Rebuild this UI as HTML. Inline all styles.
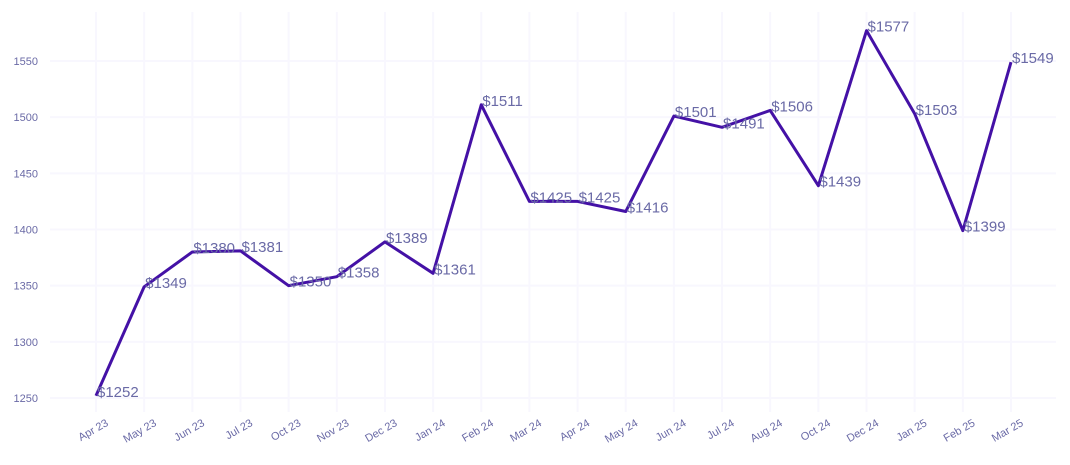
<!DOCTYPE html>
<html><head><meta charset="utf-8"><style>
body{margin:0;background:#fff;}
svg{display:block;font-family:"Liberation Sans",sans-serif;}
</style></head><body>
<svg id="chart" width="1070" height="465"></svg>
<script>
const categories=["Apr 23","May 23","Jun 23","Jul 23","Oct 23","Nov 23","Dec 23","Jan 24","Feb 24","Mar 24","Apr 24","May 24","Jun 24","Jul 24","Aug 24","Oct 24","Dec 24","Jan 25","Feb 25","Mar 25"];
const values=[1252,1349,1380,1381,1350,1358,1389,1361,1511,1425,1425,1416,1501,1491,1506,1439,1577,1503,1399,1549];
const yTicks=[1250,1300,1350,1400,1450,1500,1550];
const NS="http://www.w3.org/2000/svg";
const svg=document.getElementById('chart');
const x0=96,x1=1011,yv0=1250,yp0=398,yv1=1550,yp1=61;
const xs=i=>x0+(x1-x0)*i/(categories.length-1);
const ys=v=>yp0+(v-yv0)*(yp1-yp0)/(yv1-yv0);
function mk(t,a){const e=document.createElementNS(NS,t);for(const k in a)e.setAttribute(k,a[k]);svg.appendChild(e);return e;}
yTicks.forEach(t=>{
  const g=mk('line',{x1:50,x2:1056,y1:ys(t),y2:ys(t),stroke:'#f8f7fe','stroke-width':2});
  
  
  const l=mk('text',{x:38,y:ys(t)+4,'text-anchor':'end','font-size':11,fill:'#6a6aa6'});
  l.textContent=t;
  
  
});
categories.forEach((c,i)=>{
  const g=mk('line',{x1:xs(i),x2:xs(i),y1:12,y2:412,stroke:'#f8f7fe','stroke-width':2});
  
  
  const l=mk('text',{x:xs(i)+13,y:425,'text-anchor':'end','font-size':11,fill:'#6a6aa6',transform:`rotate(-30 ${xs(i)+13} 425)`});
  l.textContent=c;
  
  
});
const p=mk('polyline',{points:values.map((v,i)=>xs(i)+','+ys(v)).join(' '),fill:'none',stroke:'#4411a6','stroke-width':3,'stroke-linejoin':'round'});


values.forEach((v,i)=>{
  const t=mk('text',{x:xs(i)+1,y:ys(v)+1,'font-size':15,fill:'#6a6aa6'});
  t.textContent='$'+v;
  
  
});
</script>
</body></html>
